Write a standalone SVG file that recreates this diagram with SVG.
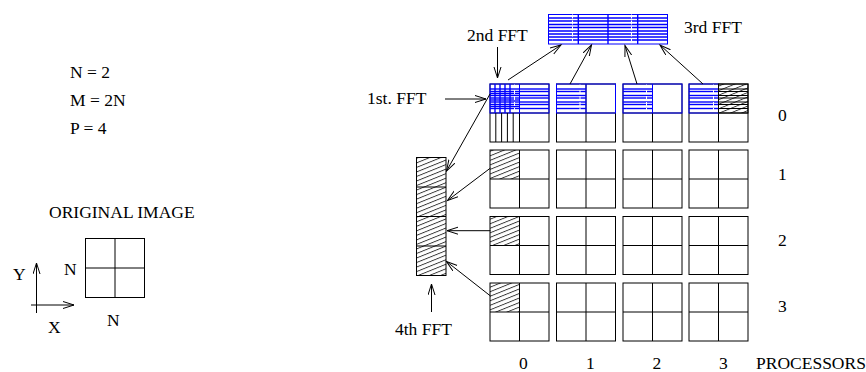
<svg xmlns="http://www.w3.org/2000/svg" width="866" height="372" viewBox="0 0 866 372">
<style>
text{font-family:"Liberation Serif","Times New Roman",serif;font-size:17.5px;fill:#000}
.bk{fill:none;stroke:#000;stroke-width:1}
.bl{fill:none;stroke:#0000ff;stroke-width:1}
.bs{stroke:#0000ff;stroke-width:1.4}
.wd{stroke:#fff;stroke-width:1;stroke-dasharray:4 2}
.cn{fill:none;stroke:#000;stroke-width:1;marker-end:url(#arr)}
.ht{fill:url(#hatch)}
</style>
<defs>
<marker id="arr" markerUnits="userSpaceOnUse" markerWidth="13" markerHeight="9" refX="11" refY="4" orient="auto">
<path d="M0,0.5 L11,4 L0,7.5" fill="none" stroke="#000" stroke-width="1"/>
</marker>
<pattern id="hatch" patternUnits="userSpaceOnUse" width="10" height="4.2" patternTransform="rotate(-22)">
<line x1="0" y1="0.5" x2="10" y2="0.5" stroke="#000" stroke-width="0.8"/>
</pattern>
<g id="stripes">
<line x1="0" y1="5" x2="29.5" y2="5"/><line x1="0" y1="7.5" x2="29.5" y2="7.5"/>
<line x1="0" y1="11.5" x2="29.5" y2="11.5"/><line x1="0" y1="14" x2="29.5" y2="14"/>
<line x1="0" y1="18" x2="29.5" y2="18"/><line x1="0" y1="20.5" x2="29.5" y2="20.5"/>
<line x1="0" y1="24.5" x2="29.5" y2="24.5"/>
</g>
<g id="quad"><rect x="0" y="0" width="59" height="58"/><line x1="29.5" y1="0" x2="29.5" y2="58"/><line x1="0" y1="29" x2="59" y2="29"/></g>
</defs>

<g id="params">
<text x="70" y="78">N = 2</text>
<text x="70" y="106">M = 2N</text>
<text x="70" y="134">P = 4</text>
</g>

<g id="original-image">
<text x="49" y="218">ORIGINAL IMAGE</text>
<rect class="bk" x="85.5" y="238.5" width="59" height="59"/>
<line class="bk" x1="115" y1="238.5" x2="115" y2="297.5"/>
<line class="bk" x1="85.5" y1="268" x2="144.5" y2="268"/>
<text x="64" y="275">N</text>
<text x="107" y="326">N</text>
<text x="13" y="280">Y</text>
<text x="48" y="333">X</text>
</g>

<g id="third-fft">
<rect class="bl" x="548.5" y="14.5" width="119" height="29.5" stroke-width="1.5"/>
<g class="bs">
<line x1="548.5" y1="18" x2="667.5" y2="18"/>
<line x1="548.5" y1="21" x2="667.5" y2="21"/><line x1="548.5" y1="24.5" x2="667.5" y2="24.5"/>
<line x1="548.5" y1="27.5" x2="667.5" y2="27.5"/><line x1="548.5" y1="31" x2="667.5" y2="31"/>
<line x1="548.5" y1="34" x2="667.5" y2="34"/><line x1="548.5" y1="37" x2="667.5" y2="37"/>
<line x1="548.5" y1="40" x2="667.5" y2="40"/>
</g>
<line class="wd" x1="572.5" y1="14.5" x2="572.5" y2="44"/>
<line class="wd" x1="631.5" y1="14.5" x2="631.5" y2="44"/>
<line class="bs" x1="578.3" y1="14.5" x2="578.3" y2="44"/>
<line class="bs" x1="608" y1="14.5" x2="608" y2="44"/>
<line class="bs" x1="637.7" y1="14.5" x2="637.7" y2="44"/>
<text x="684" y="33">3rd FFT</text>
</g>

<g id="block-0-0">
<use href="#quad" class="bk" x="490" y="84"/>
<g class="bs" transform="translate(490,84)">
<use href="#stripes"/><use href="#stripes" x="29.5"/>
<line x1="0" y1="9.5" x2="29.5" y2="9.5"/><line x1="0" y1="16" x2="29.5" y2="16"/><line x1="0" y1="22.5" x2="29.5" y2="22.5"/>
<line x1="5" y1="0" x2="5" y2="29"/><line x1="10" y1="0" x2="10" y2="29"/>
<line x1="15" y1="0" x2="15" y2="29"/><line x1="20" y1="0" x2="20" y2="29"/>
</g>
<line class="wd" x1="514.5" y1="84" x2="514.5" y2="113"/>
<rect class="bl" x="490" y="84" width="59" height="29" stroke-width="1.5"/>
<line class="bl" x1="519.5" y1="84" x2="519.5" y2="113" stroke-width="1.5"/>
<g class="bk" stroke-width="1.2">
<line x1="495.8" y1="113" x2="495.8" y2="142"/><line x1="501.6" y1="113" x2="501.6" y2="142"/>
<line x1="507.4" y1="113" x2="507.4" y2="142"/><line x1="513.2" y1="113" x2="513.2" y2="142"/>
</g>
</g>

<g id="block-0-1">
<use href="#quad" class="bk" x="556.5" y="84"/>
<use href="#stripes" class="bs" x="556.5" y="84"/>
<line class="wd" x1="580" y1="84" x2="580" y2="113"/>
<rect class="bl" x="556.5" y="84" width="59" height="29" stroke-width="1.5"/>
<line class="bl" x1="586" y1="84" x2="586" y2="113" stroke-width="1.5"/>
</g>

<g id="block-0-2">
<use href="#quad" class="bk" x="623" y="84"/>
<use href="#stripes" class="bs" x="623" y="84"/>
<line class="wd" x1="646.5" y1="84" x2="646.5" y2="113"/>
<rect class="bl" x="623" y="84" width="59" height="29" stroke-width="1.5"/>
<line class="bl" x1="652.5" y1="84" x2="652.5" y2="113" stroke-width="1.5"/>
</g>

<g id="block-0-3">
<use href="#quad" class="bk" x="689" y="84"/>
<rect class="ht" x="718.5" y="84" width="29.5" height="29"/>
<use href="#stripes" class="bk" x="718.5" y="84"/>
<use href="#stripes" class="bs" x="689" y="84"/>
<line class="wd" x1="713.5" y1="84" x2="713.5" y2="113"/>
<rect class="bl" x="689" y="84" width="29.5" height="29" stroke-width="1.5"/>
<rect class="bk" x="718.5" y="84" width="29.5" height="29" stroke-width="1.3"/>
</g>

<g id="row-1">
<rect class="ht" x="490" y="150" width="29.5" height="29"/>
<use href="#quad" class="bk" x="490" y="150"/>
<use href="#quad" class="bk" x="556.5" y="150"/>
<use href="#quad" class="bk" x="623" y="150"/>
<use href="#quad" class="bk" x="689" y="150"/>
</g>
<g id="row-2">
<rect class="ht" x="490" y="216.5" width="29.5" height="29"/>
<use href="#quad" class="bk" x="490" y="216.5"/>
<use href="#quad" class="bk" x="556.5" y="216.5"/>
<use href="#quad" class="bk" x="623" y="216.5"/>
<use href="#quad" class="bk" x="689" y="216.5"/>
</g>
<g id="row-3">
<rect class="ht" x="490" y="283" width="29.5" height="29"/>
<use href="#quad" class="bk" x="490" y="283"/>
<use href="#quad" class="bk" x="556.5" y="283"/>
<use href="#quad" class="bk" x="623" y="283"/>
<use href="#quad" class="bk" x="689" y="283"/>
</g>

<g id="fourth-fft-column">
<rect class="ht" x="416.5" y="157.5" width="29.5" height="118"/>
<rect class="bk" x="416.5" y="157.5" width="29.5" height="118"/>
<line class="bk" x1="416.5" y1="187" x2="446" y2="187"/>
<line class="bk" x1="416.5" y1="216.5" x2="446" y2="216.5"/>
<line class="bk" x1="416.5" y1="246" x2="446" y2="246"/>
</g>

<g id="labels">
<text x="467" y="41">2nd FFT</text>
<text x="367" y="104">1st. FFT</text>
<text x="395" y="335">4th FFT</text>
<text x="778" y="120.5">0</text>
<text x="778" y="180">1</text>
<text x="778" y="246">2</text>
<text x="778" y="311.5">3</text>
<text x="519" y="369">0</text>
<text x="586" y="369">1</text>
<text x="652.5" y="369">2</text>
<text x="719" y="369">3</text>
<text x="756" y="369">PROCESSORS</text>
</g>

<g id="connectors">
<line class="cn" x1="445" y1="99" x2="486" y2="99"/>
<line class="cn" x1="497.5" y1="47" x2="497.5" y2="78"/>
<line class="cn" x1="508" y1="80" x2="561" y2="45"/>
<line class="cn" x1="570" y1="84" x2="591.5" y2="45"/>
<line class="cn" x1="637" y1="84" x2="625" y2="45.5"/>
<line class="cn" x1="703" y1="84" x2="660" y2="45"/>
<line class="cn" x1="490" y1="94" x2="446.5" y2="171"/>
<line class="cn" x1="490.5" y1="168" x2="447.5" y2="200.5"/>
<line class="cn" x1="490.5" y1="230.7" x2="447" y2="230.7"/>
<line class="cn" x1="490.5" y1="296" x2="446.5" y2="261.5"/>
<line class="cn" x1="431.5" y1="312" x2="431.5" y2="284"/>
<line class="cn" x1="36.5" y1="313" x2="36.5" y2="263"/>
<line class="cn" x1="31" y1="305" x2="74" y2="305"/>
</g>
</svg>
